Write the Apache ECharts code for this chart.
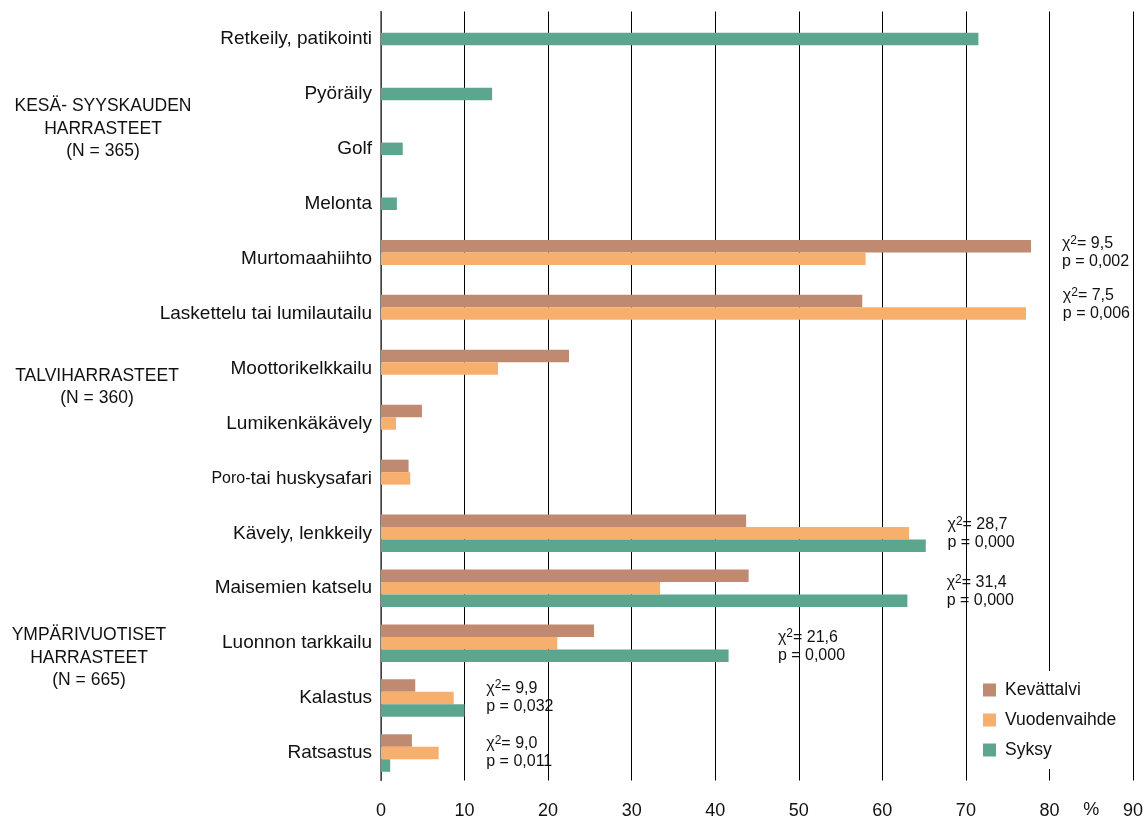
<!DOCTYPE html>
<html>
<head>
<meta charset="utf-8">
<script src="https://cdn.jsdelivr.net/npm/echarts@6/dist/echarts.min.js"></script>
<style>
  html, body { margin: 0; padding: 0; background: #fff; }
  #main { width: 1146px; height: 821px; }
</style>
</head>
<body>
<div id="main"></div>
<script>
// categories, top to bottom
var categories = ['Retkeily, patikointi', 'Pyöräily', 'Golf', 'Melonta', 'Murtomaahiihto',
  'Laskettelu tai lumilautailu', 'Moottorikelkkailu', 'Lumikenkäkävely', 'Poro-tai huskysafari',
  'Kävely, lenkkeily', 'Maisemien katselu', 'Luonnon tarkkailu', 'Kalastus', 'Ratsastus'];

// percentages
var kevattalvi   = [null, null, null, null, 77.8, 57.6, 22.5, 4.9, 3.3, 43.7, 44.0, 25.5, 4.1, 3.7];
var vuodenvaihde = [null, null, null, null, 58.0, 77.2, 14.0, 1.8, 3.5, 63.2, 33.4, 21.1, 8.7, 6.9];
var syksy        = [null, null, null, null, null, null, null, null, null, 65.2, 63.0, 41.6, 10.0, 1.1];
// summer-only activities (single bar, centred in its row)
var syksyKesa    = [71.5, 13.3, 2.6, 1.9, null, null, null, null, null, null, null, null, null, null];

var xTicks = [0, 10, 20, 30, 40, 50, 60, 70, 80, 90];

// chi-square notes: category, chi, p
var noteCats = ['Murtomaahiihto', 'Laskettelu tai lumilautailu', 'Kävely, lenkkeily', 'Maisemien katselu',
  'Luonnon tarkkailu', 'Kalastus', 'Ratsastus'];
var noteChi = ['9,5', '7,5', '28,7', '31,4', '21,6', '9,9', '9,0'];
var noteP = ['0,002', '0,006', '0,000', '0,000', '0,000', '0,032', '0,011'];
// where the notes sit (x in axis units, y shift in px)
var noteX = [81.5, 81.6, 67.8, 67.7, 47.5, 12.6, 12.6];
var noteDy = [-6, -9, 0, 3, 3, -1, 0];

var groupLabels = [
  { text: 'KESÄ- SYYSKAUDEN\nHARRASTEET\n(N = 365)', x: 103, y: 129 },
  { text: 'TALVIHARRASTEET\n(N = 360)', x: 97, y: 387 },
  { text: 'YMPÄRIVUOTISET\nHARRASTEET\n(N = 665)', x: 89, y: 658 }
];

var FONT = '"Liberation Sans", Arial, sans-serif';
var cBrown = '#BF8A6F', cOrange = '#F6AF6C', cGreen = '#5CA68F';

var chartDom = document.getElementById('main');
var myChart = echarts.init(chartDom);

var option = {
  animation: false,
  textStyle: { fontFamily: FONT },
  grid: { left: 381, right: 13, top: 11.5, bottom: 40.5 },
  legend: {
    data: ['Kevättalvi', 'Vuodenvaihde', 'Syksy'],
    orient: 'vertical',
    left: 973,
    top: 671,
    padding: [10, 10, 10, 10],
    backgroundColor: '#fff',
    icon: 'rect',
    itemWidth: 13,
    itemHeight: 13,
    itemGap: 12,
    textStyle: { fontSize: 17.5, color: '#111', fontFamily: FONT, padding: [0, 0, 0, 4] }
  },
  xAxis: {
    type: 'value',
    min: 0,
    max: 90,
    interval: 10,
    axisLine: { show: false },
    axisTick: { show: false },
    splitLine: { show: true, lineStyle: { color: '#000', width: 1 } },
    axisLabel: { fontSize: 18, color: '#111', margin: 22, fontFamily: FONT,
      formatter: function (v) { return xTicks.indexOf(v) >= 0 ? String(v) : ''; } }
  },
  yAxis: [
    {
      type: 'category',
      data: categories,
      inverse: true,
      axisLine: { show: true, lineStyle: { color: '#555', width: 1.5 } },
      axisTick: { show: false },
      axisLabel: {
        fontSize: 19, color: '#111', margin: 9, fontFamily: FONT,
        formatter: function (v) {
          if (v.indexOf('Poro-') === 0) return '{s|Poro-}{m|' + v.slice(5) + '}';
          return v;
        },
        rich: {
          s: { fontSize: 16, color: '#111', fontFamily: FONT },
          m: { fontSize: 19, color: '#111', fontFamily: FONT }
        }
      }
    },
    {
      type: 'category',
      data: categories,
      inverse: true,
      show: false
    }
  ],
  series: [
    { name: 'Kevättalvi', type: 'bar', yAxisIndex: 0, data: kevattalvi, barWidth: 12.5, barGap: '0%',
      itemStyle: { color: cBrown } },
    { name: 'Vuodenvaihde', type: 'bar', yAxisIndex: 0, data: vuodenvaihde, barWidth: 12.5, barGap: '0%',
      itemStyle: { color: cOrange } },
    { name: 'Syksy', type: 'bar', yAxisIndex: 0, data: syksy, barWidth: 12.5, barGap: '0%',
      itemStyle: { color: cGreen } },
    { name: 'Syksy', type: 'bar', yAxisIndex: 1, data: syksyKesa, barWidth: 12.5,
      itemStyle: { color: cGreen } }
  ]
};

myChart.setOption(option);

// text overlays placed through the axes
var graphics = [];
noteCats.forEach(function (cat, i) {
  var px = myChart.convertToPixel({ xAxisIndex: 0 }, noteX[i]);
  var py = myChart.convertToPixel({ yAxisIndex: 0 }, categories.indexOf(cat));
  graphics.push({
    type: 'text',
    x: px,
    y: py + noteDy[i],
    z: 10,
    style: {
      text: '{a|χ}{sup|2}{a|= ' + noteChi[i] + '}\n{a|p = ' + noteP[i] + '}',
      align: 'left',
      verticalAlign: 'middle',
      rich: {
        a: { fontSize: 16, fill: '#111', fontFamily: FONT, lineHeight: 18 },
        sup: { fontSize: 12, fill: '#111', fontFamily: FONT, lineHeight: 18, verticalAlign: 'top', padding: [0, 0, 6, 0] }
      }
    }
  });
});

var pctX = myChart.convertToPixel({ xAxisIndex: 0 }, 85);
graphics.push({
  type: 'text', x: pctX, y: 810,
  style: { text: '%', fontSize: 18, fill: '#111', fontFamily: FONT, align: 'center', verticalAlign: 'middle' }
});

groupLabels.forEach(function (g) {
  graphics.push({
    type: 'text', x: g.x, y: g.y,
    style: { text: g.text, fontSize: 17.5, lineHeight: 22.5, fill: '#111', fontFamily: FONT,
      align: 'center', verticalAlign: 'middle' }
  });
});

myChart.setOption({ graphic: graphics });
</script>
</body>
</html>
